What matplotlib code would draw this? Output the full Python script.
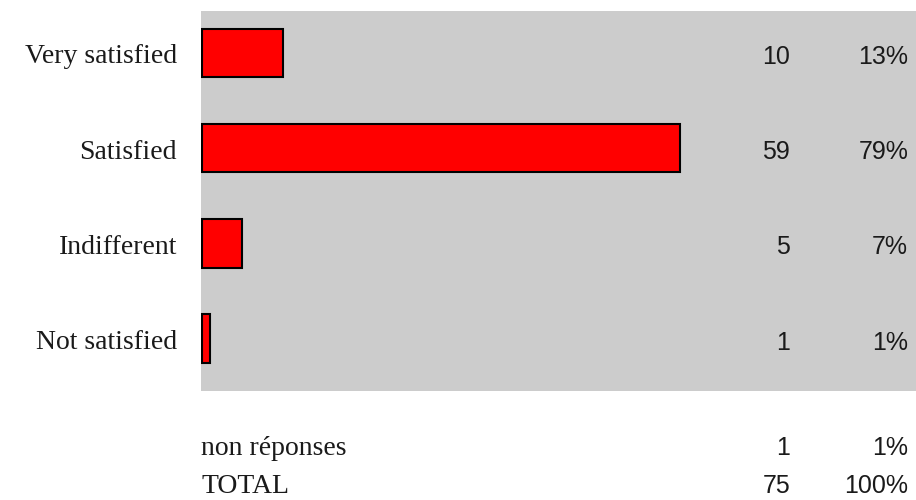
import matplotlib
matplotlib.use("Agg")
import matplotlib.pyplot as plt
from matplotlib.transforms import offset_copy

# survey results
categories = ["Very satisfied", "Satisfied", "Indifferent", "Not satisfied"]
counts = [10, 59, 5, 1]
percents = ["13%", "79%", "7%", "1%"]

# summary rows under the chart
extra_labels = ["non réponses", "TOTAL"]
extra_counts = [1, 75]
extra_percents = ["1%", "100%"]

W, H = 916, 500
fig = plt.figure(figsize=(W / 100, H / 100), dpi=100)
fig.patch.set_facecolor("white")

# gray panel: x 201..916, y 11..391 (pixels)
ax = fig.add_axes([201 / W, 1 - 391 / H, 715 / W, 380 / H])
ax.set_facecolor("#cccccc")

ypos = list(range(len(categories)))
ax.barh(ypos, counts, height=0.51, color="#ff0000", edgecolor="black",
        linewidth=1.5, left=0.1)
ax.set_xlim(0, 715 / 8.1)
ax.set_ylim(3.55, -0.44)
for s in ax.spines.values():
    s.set_visible(False)
ax.set_xticks([])
ax.set_yticks([])

txt_color = "#1a1a1a"
lab_font = dict(fontfamily="Liberation Serif", fontsize=20, color=txt_color)
num_font = dict(fontfamily="Liberation Sans", fontsize=18, color=txt_color,
                ha="right")

# text sits a few pixels below the bar centre
ytr = offset_copy(ax.get_yaxis_transform(), fig=fig, x=0, y=-4, units="dots")
for y, cat, c, p in zip(ypos, categories, counts, percents):
    ax.text(-24 / 715, y, cat, transform=ytr, va="center", ha="right",
            **lab_font)
    ax.text(0.824, y, str(c), transform=ytr, va="center", **num_font)
    ax.text(0.989, y, p, transform=ytr, va="center", **num_font)

# summary rows (baselines in pixels)
row_base = [455, 493]
for ry, lab, c, p in zip(row_base, extra_labels, extra_counts, extra_percents):
    fy = 1 - ry / H
    fig.text(201 / W, fy, lab, va="baseline", ha="left", **lab_font)
    fig.text(790 / W, fy, str(c), va="baseline", **num_font)
    fig.text(908 / W, fy, p, va="baseline", **num_font)

fig.savefig("out.png", dpi=100)
